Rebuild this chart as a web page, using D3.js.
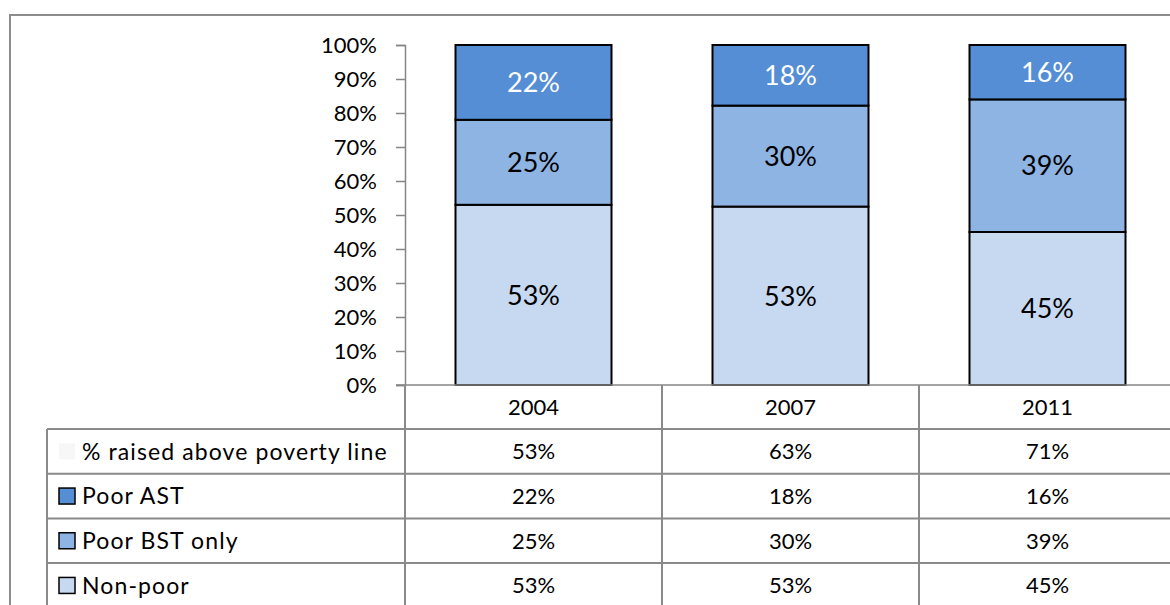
<!DOCTYPE html>
<html>
<head>
<meta charset="utf-8">
<script src="https://cdn.jsdelivr.net/npm/d3@7"></script>
<style>
  html, body { margin: 0; padding: 0; background: #fff; }
  svg { display: block; }
  text { font-family: Lato, "Open Sans", sans-serif; fill: #000; }
</style>
</head>
<body>
<svg id="chart" width="1170" height="605"></svg>
<script>
// ---- data ----
const years = ["2004", "2007", "2011"];
const seriesNames = ["Non-poor", "Poor BST only", "Poor AST"];
const nonPoor = [53, 53, 45];
const poorBST = [25, 30, 39];
const poorAST = [22, 18, 16];
const raisedAbove = [53, 63, 71];
const yTicks = [0, 10, 20, 30, 40, 50, 60, 70, 80, 90, 100];
const seriesColors = ["#C6D9F1", "#8EB4E3", "#558ED5"];
const labelColors = ["#000", "#000", "#fff"];

const rows = years.map((y, i) => ({
  year: y, "Non-poor": nonPoor[i], "Poor BST only": poorBST[i], "Poor AST": poorAST[i]
}));

const svg = d3.select("#chart");
const W = 1170, H = 605;

// outer chart border
svg.append("rect").attr("x", 10).attr("y", 15).attr("width", W + 20).attr("height", H + 20)
  .attr("fill", "#fff").attr("stroke", "#8c8c8c").attr("stroke-width", 2);

const x = d3.scaleBand().domain(years).range([405, 1176]).padding(0);
const y = d3.scaleLinear().domain([0, 1]).range([385, 45]);
const barFrac = 0.607;
const barW = x.bandwidth() * barFrac;

const stack = d3.stack().keys(seriesNames).offset(d3.stackOffsetExpand);
const stacked = stack(rows);

// y axis
const yAxis = d3.axisLeft(y)
  .tickValues(yTicks.map(v => v / 100))
  .tickSize(9)
  .tickPadding(19)
  .tickFormat(d => Math.round(d * 100) + "%");
const gy = svg.append("g").attr("transform", "translate(405,0)").call(yAxis);
gy.select(".domain").attr("stroke", "#868686").attr("stroke-width", 1.5);
gy.selectAll(".tick line").attr("stroke", "#868686").attr("stroke-width", 1.5);
gy.selectAll(".tick text").attr("font-size", 22).attr("font-family", "Lato, sans-serif").attr("fill", "#000");

// bars
const layers = svg.append("g").selectAll("g").data(stacked).join("g")
  .attr("fill", (d, i) => seriesColors[i]);
layers.selectAll("rect").data(d => d).join("rect")
  .attr("x", d => x(d.data.year) + (x.bandwidth() - barW) / 2)
  .attr("y", d => y(d[1]))
  .attr("width", barW)
  .attr("height", d => y(d[0]) - y(d[1]))
  .attr("stroke", "#000").attr("stroke-width", 2);

// bar labels
stacked.forEach((layer, li) => {
  svg.append("g").selectAll("text").data(layer).join("text")
    .attr("x", d => x(d.data.year) + x.bandwidth() / 2)
    .attr("y", d => (y(d[0]) + y(d[1])) / 2)
    .attr("dy", "0.36em")
    .attr("text-anchor", "middle")
    .attr("font-size", 27)
    .style("fill", labelColors[li])
    .text(d => d.data[layer.key] + "%");
});

// x axis baseline
svg.append("line").attr("x1", 396).attr("x2", W).attr("y1", y(0)).attr("y2", y(0))
  .attr("stroke", "#868686").attr("stroke-width", 1.5);

// ---- data table ----
const tableTop = 385, headerH = 44, rowH = 44.7, leftX = 47;
const tableRows = [
  { label: "% raised above poverty line", values: raisedAbove, color: "#f7f7f7", keyStroke: "none" },
  { label: "Poor AST", values: poorAST, color: seriesColors[2], keyStroke: "#000" },
  { label: "Poor BST only", values: poorBST, color: seriesColors[1], keyStroke: "#000" },
  { label: "Non-poor", values: nonPoor, color: seriesColors[0], keyStroke: "#000" }
];
const tg = svg.append("g");
const lineColor = "#8a8a8a";
years.forEach(yr => {
  tg.append("line").attr("x1", x(yr)).attr("x2", x(yr)).attr("y1", tableTop).attr("y2", H)
    .attr("stroke", lineColor).attr("stroke-width", 2);
});
tg.append("line").attr("x1", leftX).attr("x2", leftX).attr("y1", tableTop + headerH).attr("y2", H)
  .attr("stroke", lineColor).attr("stroke-width", 2);
tableRows.forEach((r, i) => {
  const yy = tableTop + headerH + i * rowH;
  tg.append("line").attr("x1", leftX).attr("x2", W).attr("y1", yy).attr("y2", yy)
    .attr("stroke", lineColor).attr("stroke-width", 2);
});
tg.selectAll("text.yr").data(years).join("text").attr("class", "yr")
  .attr("x", d => x(d) + x.bandwidth() / 2)
  .attr("y", tableTop + headerH / 2).attr("dy", "0.36em")
  .attr("text-anchor", "middle").attr("font-size", 22).text(d => d);
tableRows.forEach((r, i) => {
  const cy = tableTop + headerH + i * rowH + rowH / 2;
  tg.append("rect").attr("x", 59).attr("y", cy - 8).attr("width", 16).attr("height", 16)
    .attr("fill", r.color).attr("stroke", r.keyStroke).attr("stroke-width", 1.5);
  tg.append("text").attr("x", 82).attr("y", cy).attr("dy", "0.36em")
    .attr("font-size", 23).attr("letter-spacing", 1.1).text(r.label);
  tg.selectAll(null).data(r.values).join("text")
    .attr("x", (d, j) => x(years[j]) + x.bandwidth() / 2)
    .attr("y", cy).attr("dy", "0.36em")
    .attr("text-anchor", "middle").attr("font-size", 22)
    .text(d => d + "%");
});
</script>
</body>
</html>
